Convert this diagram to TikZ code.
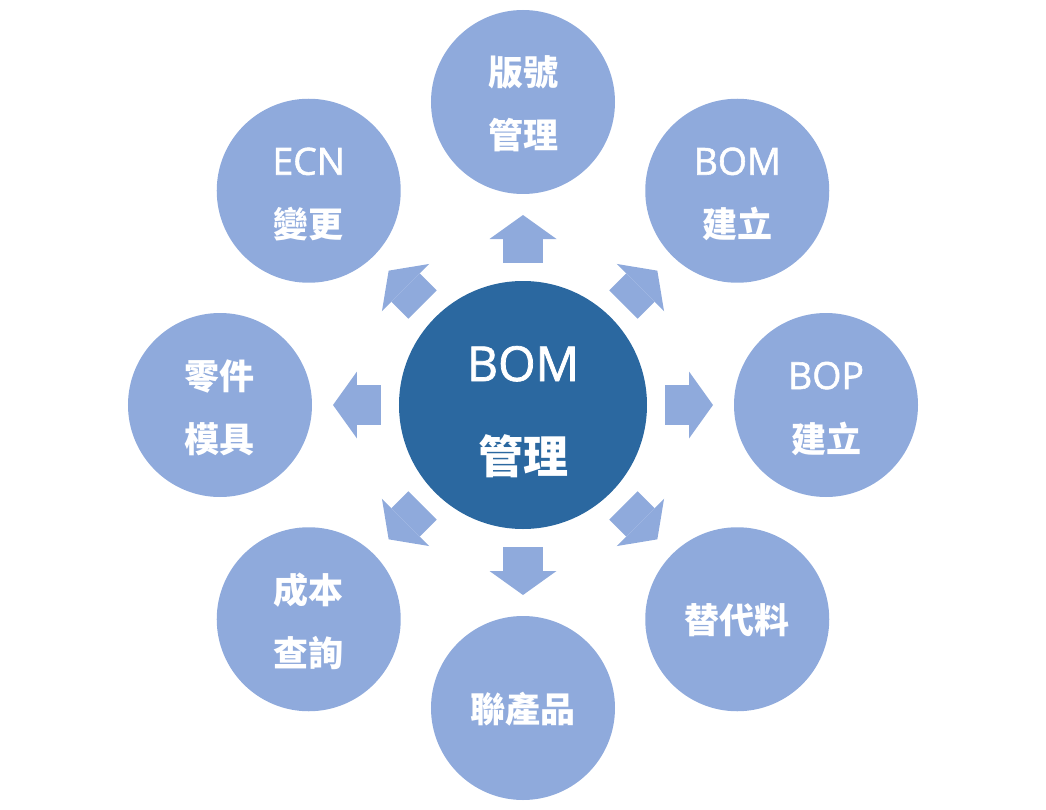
\documentclass[tikz,border=0pt]{standalone}
\usepackage{fontspec}
\setmainfont{Noto Sans CJK TC}
\newfontfamily\latinfont{Open Sans}[Scale=1.07,FakeBold=1.5]
\usetikzlibrary{arrows.meta,positioning}
\definecolor{hubblue}{HTML}{2B68A0}
\definecolor{leafblue}{HTML}{8FAADC}
\tikzset{
    %Define style for the centre circle
    hub/.style={
           circle,
           fill=hubblue,
           minimum size=248pt,
           inner sep=0pt,
           outer sep=0pt,
           text=white,
           font=\fontsize{45}{92}\selectfont,
           text height=140pt,
           text depth=4pt,
           align=center},
    %Define style for the outer circles
    leaf/.style={
           circle,
           fill=leafblue,
           minimum size=184pt,
           inner sep=0pt,
           outer sep=0pt,
           text=white,
           font=\fontsize{35}{63}\selectfont,
           text height=97pt,
           text depth=3pt,
           align=center},
    oneline/.style={
           text height=31pt}
}
\tikzset{
    % Define arrow style
    pil/.style={
           -{Triangle[length=24pt,width=67pt,line width=0pt]},
           color=leafblue,
           line width=40pt,
           shorten <=18pt,
           shorten >=21pt,}
}
\begin{document}
\begin{tikzpicture}[main node/.style={leaf}, hub node/.style={hub}]
\useasboundingbox (-523pt,-404pt) rectangle (523pt,405pt);
 %nodes
\node[hub node](0) at (0,0){{\latinfont BOM}\\\textbf{管理}};
\node[main node](1) at (90:303pt){\textbf{版號}\\\textbf{管理}};
\node[main node](2) at (45:303pt){{\latinfont BOM}\\\textbf{建立}};
\node[main node](3) at (0:303pt){{\latinfont BOP}\\\textbf{建立}};
\node[main node, oneline](4) at (-45:303pt){\textbf{替代料}};
\node[main node, oneline](5) at (-90:303pt){\textbf{聯產品}};
\node[main node](6) at (-135:303pt){\textbf{成本}\\\textbf{查詢}};
\node[main node](7) at (180:303pt){\textbf{零件}\\\textbf{模具}};
\node[main node](8) at (135:303pt){{\latinfont ECN}\\\textbf{變更}};
 %arrows
 \path[pil]
    (0) edge (1) edge (2) edge (3) edge (4)
        edge (5) edge (6) edge (7) edge (8);
\end{tikzpicture}
\end{document}
